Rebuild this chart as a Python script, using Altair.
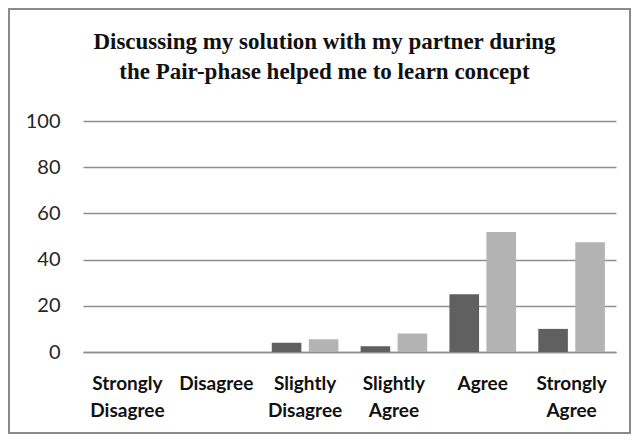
import altair as alt
import pandas as pd

categories = ["Strongly Disagree", "Disagree", "Slightly Disagree",
              "Slightly Agree", "Agree", "Strongly Agree"]
series_names = ["Series 1", "Series 2"]
series1 = [0, 0, 4, 2.5, 25, 10]
series2 = [0, 0, 5.5, 8, 52, 47.5]
colors = ["#606060", "#b3b3b3"]
y_ticks = [0, 20, 40, 60, 80, 100]
title_lines = ["Discussing my solution with my partner during",
               "the Pair-phase helped me to learn concept"]

rows = []
for i, c in enumerate(categories):
    rows.append({"category": c, "series": series_names[0], "value": series1[i]})
    rows.append({"category": c, "series": series_names[1], "value": series2[i]})
df = pd.DataFrame(rows)

bars = alt.Chart(df).mark_bar().encode(
    x=alt.X("category:N", sort=categories,
            scale=alt.Scale(paddingInner=0.25, paddingOuter=0.125),
            axis=alt.Axis(title=None, labelAngle=0, labelExpr="split(datum.label, ' ')",
                          labelFont="Lato", labelFontSize=19, labelFontWeight="bold",
                          labelColor="#111111", labelLineHeight=27, labelBaseline="top",
                          labelPadding=22, ticks=False, labelOverlap=False,
                          domainColor="#8f8f8f", domainWidth=1.5, grid=False)),
    xOffset=alt.XOffset("series:N", sort=series_names,
                        scale=alt.Scale(paddingInner=0.2, paddingOuter=0)),
    y=alt.Y("value:Q", scale=alt.Scale(domain=[0, 100]),
            axis=alt.Axis(title=None, values=y_ticks, ticks=False, domain=False,
                          labelFont="Lato", labelFontSize=20, labelColor="#262626",
                          labelPadding=23, gridColor="#8f8f8f", gridWidth=1.5)),
    color=alt.Color("series:N", scale=alt.Scale(domain=series_names, range=colors),
                    legend=None),
)

frame = alt.Chart(alt.Data(values=[{}])).mark_rect(
    fillOpacity=0, stroke="#8a8a8a", strokeWidth=2
).encode(
    x=alt.value(-74), x2=alt.value(547), y=alt.value(-112), y2=alt.value(312)
)

chart = alt.layer(frame, bars).properties(
    width=533, height=231,
    autosize="none",
    padding={"left": 75, "top": 113, "right": 15, "bottom": 82},
    title=alt.TitleParams(text=title_lines, font="Liberation Serif", fontSize=23,
                          fontWeight="bold", color="#111111", anchor="middle",
                          dx=-25, lineHeight=30, offset=-76),
).configure_view(strokeWidth=0)

chart.save("out.html", embed_options={"renderer": "svg", "actions": False})
